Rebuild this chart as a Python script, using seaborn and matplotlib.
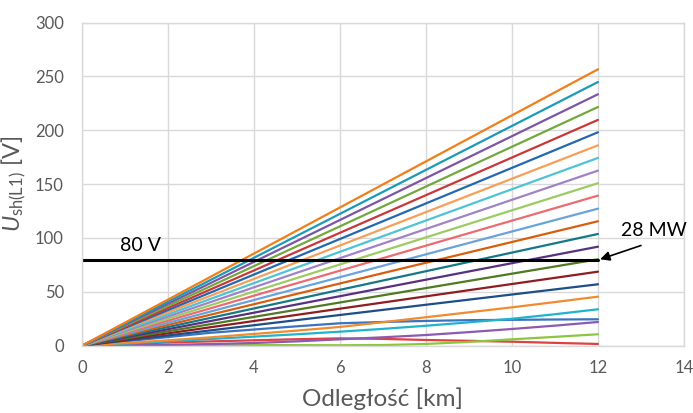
import matplotlib
matplotlib.use("Agg")
import matplotlib.pyplot as plt
import seaborn as sns
import pandas as pd

# ---- data ----
# straight series: value at 12 km (all start at 0 V at 0 km)
STRAIGHT_KM = [0, 12]
straight_end_values = [256.6, 244.8, 233.4, 221.6, 209.6, 198.1, 186.0, 174.3,
                       162.5, 150.8, 139.3, 127.2, 115.5, 103.7, 91.9, 80.2,
                       68.7, 57.0]
# curved series (low end), values at every km 0..12
CURVED_KM = [0, 1, 2, 3, 4, 5, 6, 7, 8, 9, 10, 11, 12]
curved_orange = [0, 2.5, 5.0, 7.8, 10.9, 14.0, 17.4, 21.8, 26.4, 31.0, 35.6, 40.5, 45.5]
curved_cyan = [0, 2.0, 4.0, 6.2, 8.4, 10.6, 13.0, 15.6, 18.5, 21.7, 25.0, 29.2, 33.8]
curved_blue = [0, 4.0, 8.0, 12.0, 15.0, 18.0, 20.8, 22.0, 23.0, 23.7, 24.0, 24.3, 24.5]
curved_purple = [0, 0.3, 0.8, 1.5, 2.5, 4.0, 5.9, 7.8, 9.9, 12.6, 15.5, 18.6, 22.0]
curved_green = [0, 0.3, 0.5, 0.6, 0.6, 0.5, 0.4, 0.6, 1.6, 3.5, 5.9, 8.2, 10.6]
curved_red = [0, 1.5, 3.0, 4.0, 5.0, 6.0, 6.8, 6.3, 5.3, 4.5, 3.7, 2.6, 1.6]

colors = ["#F07F1A", "#1B9AB8", "#7D55A6", "#72A83E", "#C8383A", "#2468B0",
          "#F5A05A", "#4FC3D6", "#A083C6", "#9CCB64", "#EB6B73", "#6AA2DB",
          "#D85E0E", "#167887", "#57307F", "#4F7A23", "#8E1D22", "#1D4E86",
          "#F28B2E", "#1FB4CC", "#3A73C1", "#8A5BB0", "#8CC63E", "#E0403F"]

LIMIT_V = 80
LIMIT_KM = [0, 12]
x_ticks = [0, 2, 4, 6, 8, 10, 12, 14]
y_ticks = [0, 50, 100, 150, 200, 250, 300]

# ---- build long table ----
rows = []
for i, end in enumerate(straight_end_values):
    for km, v in zip(STRAIGHT_KM, [0, end]):
        rows.append({"km": km, "U": v, "s": f"s{i:02d}"})
curved = [curved_orange, curved_cyan, curved_blue, curved_purple, curved_green, curved_red]
n0 = len(straight_end_values)
for j, vals in enumerate(curved):
    for km, v in zip(CURVED_KM, vals):
        rows.append({"km": km, "U": v, "s": f"s{n0 + j:02d}"})
df = pd.DataFrame(rows)
order = sorted(df["s"].unique())

sns.set_theme(style="white")
plt.rcParams["font.family"] = ["Lato", "DejaVu Sans"]
plt.rcParams["mathtext.fontset"] = "custom"
plt.rcParams["mathtext.rm"] = "Lato"
plt.rcParams["mathtext.it"] = "Lato:italic"

fig = plt.figure(figsize=(6.93, 4.13), dpi=100)
ax = fig.add_axes([0.1183, 0.163, 0.8687, 0.7825])

sns.lineplot(data=df, x="km", y="U", hue="s", hue_order=order[::-1],
             palette=dict(zip(order, colors)), estimator=None, sort=False,
             legend=False, linewidth=1.6, ax=ax)

lim = pd.DataFrame({"km": LIMIT_KM, "U": [LIMIT_V, LIMIT_V]})
sns.lineplot(data=lim, x="km", y="U", color="black", linewidth=2.2, ax=ax)

ax.set_xlim(0, 14)
ax.set_ylim(0, 300)
ax.set_xticks(x_ticks)
ax.set_yticks(y_ticks)
ax.grid(True, color="#D9D9D9", linewidth=1.0)
ax.set_axisbelow(True)
for sp in ax.spines.values():
    sp.set_color("#D9D9D9")
    sp.set_linewidth(1.0)
ax.tick_params(axis="both", length=0, labelsize=12, labelcolor="#595959")
ax.tick_params(axis="x", pad=10)
ax.tick_params(axis="y", pad=13)

ax.set_xlabel("Odległość [km]", fontsize=17.5, color="#595959")
ax.set_ylabel(r"$U_{\mathrm{sh(L1)}}$ [V]", fontsize=17, color="#595959")
ax.xaxis.set_label_coords(0.5, -0.13)
ax.yaxis.set_label_coords(-0.09, 0.5)

ax.text(1.35, 93, "80 V", fontsize=14, color="black", ha="center", va="center")
ax.text(13.3, 107, "28 MW", fontsize=14, color="black", ha="center", va="center")
ax.annotate("", xy=(12.05, 80.2), xytext=(13.0, 93),
            arrowprops=dict(arrowstyle="-|>", color="black", lw=1.2,
                            mutation_scale=14, shrinkA=0, shrinkB=0))

fig.savefig("out.png", dpi=100)
